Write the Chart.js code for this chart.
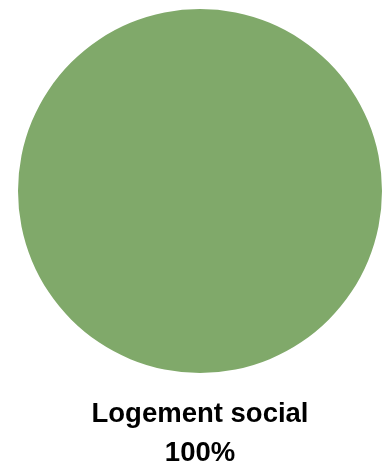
<!DOCTYPE html>
<html>
<head>
<meta charset="utf-8">
<script src="https://cdn.jsdelivr.net/npm/chart.js@4/dist/chart.umd.min.js"></script>
<style>
    html, body { margin: 0; padding: 0; background: #fff; }
    #wrap { width: 385px; height: 463px; position: relative; }
</style>
</head>
<body>
<div id="wrap"><canvas id="pieChart"></canvas></div>
<script>
const categories = ['Logement social'];
const values = [100];
const colors = ['#80a96a'];

// label + percentage under the pie
const bottomLabels = {
    id: 'bottomLabels',
    afterDraw(chart) {
        const ctx = chart.ctx;
        const area = chart.chartArea;
        const data = chart.data.datasets[0].data;
        const sum = data.reduce((a, b) => a + b, 0);
        const cx = (area.left + area.right) / 2;
        ctx.save();
        ctx.fillStyle = '#000';
        ctx.font = 'bold 27.5px "Liberation Sans", Arial, sans-serif';
        ctx.textAlign = 'center';
        ctx.textBaseline = 'alphabetic';
        chart.data.labels.forEach((label, i) => {
            const pct = Math.round(data[i] * 100 / sum) + '%';
            ctx.fillText(label, cx, area.bottom + 49);
            ctx.fillText(pct, cx, area.bottom + 88);
        });
        ctx.restore();
    }
};

const pieCtx = document.getElementById('pieChart').getContext('2d');
const pieChart = new Chart(pieCtx, {
    type: 'pie',
    data: {
        labels: categories,
        datasets: [{
            data: values,
            backgroundColor: colors,
            borderWidth: 0,
        }]
    },
    options: {
        responsive: true,
        maintainAspectRatio: false,
        animation: false,
        layout: {
            padding: { left: 18, right: 3, top: 9, bottom: 90 }
        },
        plugins: {
            legend: { display: false },
            tooltip: { enabled: false }
        }
    },
    plugins: [bottomLabels]
});
</script>
</body>
</html>
